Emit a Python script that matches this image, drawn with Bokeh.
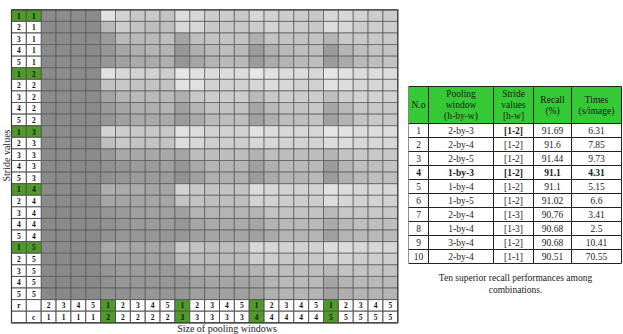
import math
from bokeh.plotting import figure
from bokeh.models import ColumnDataSource, Range1d
from bokeh.layouts import row
from bokeh.core.properties import value
from bokeh.embed import file_html
from bokeh.resources import INLINE

# ---------------- data ----------------
# stride values (rows): r, c
stride_r = [1, 2, 3, 4, 5] * 5
stride_c = [1] * 5 + [2] * 5 + [3] * 5 + [4] * 5 + [5] * 5
# pooling windows (columns): r, c
pool_r = [2, 3, 4, 5] + [1, 2, 3, 4, 5] * 4
pool_c = [1] * 4 + [2] * 5 + [3] * 5 + [4] * 5 + [5] * 5

# grey level of every cell (0 = black, 255 = white)
shade = [
    [139, 140, 140, 139, 225, 210, 200, 200, 195, 220, 215, 205, 205, 200, 215, 210, 205, 205, 200, 215, 215, 210, 205, 205],
    [139, 140, 140, 139, 185, 205, 195, 190, 190, 215, 215, 200, 200, 200, 205, 210, 205, 205, 200, 220, 215, 205, 205, 205],
    [139, 140, 140, 139, 155, 185, 185, 185, 190, 165, 190, 195, 195, 195, 175, 195, 195, 195, 195, 180, 200, 200, 200, 200],
    [138, 139, 139, 138, 150, 165, 175, 180, 180, 150, 175, 185, 190, 185, 155, 175, 185, 190, 190, 155, 180, 190, 195, 195],
    [138, 139, 139, 138, 150, 160, 170, 170, 175, 150, 165, 180, 185, 185, 155, 170, 180, 185, 190, 155, 170, 185, 190, 195],
    [139, 140, 140, 139, 225, 215, 210, 210, 205, 230, 225, 220, 220, 220, 230, 225, 220, 220, 215, 230, 225, 220, 220, 220],
    [139, 140, 140, 139, 195, 200, 195, 195, 195, 225, 225, 210, 210, 210, 215, 220, 215, 210, 210, 225, 220, 215, 215, 215],
    [139, 140, 140, 139, 165, 180, 185, 185, 185, 175, 200, 205, 205, 205, 185, 200, 205, 205, 205, 190, 205, 210, 210, 210],
    [138, 139, 139, 138, 155, 165, 175, 175, 180, 160, 180, 195, 195, 195, 165, 185, 195, 195, 200, 165, 185, 200, 200, 200],
    [138, 139, 139, 138, 150, 160, 170, 170, 170, 155, 170, 185, 190, 190, 160, 175, 190, 190, 195, 160, 180, 195, 200, 200],
    [139, 140, 140, 139, 210, 205, 200, 200, 200, 225, 220, 210, 210, 210, 225, 220, 215, 215, 215, 230, 225, 220, 220, 220],
    [139, 140, 140, 139, 190, 200, 195, 195, 195, 220, 215, 205, 205, 205, 215, 215, 210, 210, 210, 220, 220, 215, 215, 215],
    [139, 139, 139, 139, 152, 168, 168, 168, 168, 165, 190, 190, 190, 190, 178, 190, 190, 190, 190, 180, 195, 200, 200, 200],
    [138, 138, 138, 138, 145, 150, 155, 155, 160, 150, 170, 180, 180, 180, 160, 175, 185, 185, 185, 155, 180, 190, 190, 195],
    [138, 138, 138, 138, 145, 150, 155, 155, 155, 145, 160, 175, 175, 175, 155, 170, 180, 180, 185, 155, 175, 185, 190, 190],
    [139, 139, 139, 139, 175, 170, 170, 165, 165, 210, 200, 195, 195, 195, 220, 215, 210, 210, 210, 225, 220, 215, 215, 215],
    [139, 139, 139, 139, 165, 165, 165, 165, 165, 195, 195, 190, 190, 190, 210, 210, 205, 205, 205, 220, 215, 210, 210, 210],
    [138, 138, 138, 138, 150, 155, 160, 160, 160, 160, 180, 180, 180, 180, 180, 195, 195, 195, 195, 185, 200, 200, 200, 200],
    [138, 138, 138, 138, 145, 150, 155, 155, 155, 150, 165, 170, 170, 170, 165, 180, 185, 185, 185, 170, 185, 190, 190, 190],
    [137, 137, 137, 137, 145, 150, 150, 150, 150, 150, 160, 165, 165, 165, 160, 170, 180, 180, 180, 160, 180, 185, 185, 185],
    [139, 139, 139, 139, 170, 165, 165, 165, 165, 200, 195, 190, 190, 190, 215, 215, 210, 210, 210, 220, 220, 215, 215, 215],
    [138, 138, 138, 138, 160, 160, 160, 160, 160, 185, 185, 185, 185, 185, 205, 205, 200, 200, 200, 210, 210, 205, 205, 205],
    [138, 138, 138, 138, 150, 155, 155, 155, 155, 160, 175, 175, 175, 175, 180, 190, 190, 190, 190, 185, 195, 195, 195, 195],
    [137, 137, 137, 137, 145, 150, 150, 150, 150, 150, 160, 165, 165, 165, 165, 180, 185, 185, 185, 165, 180, 185, 185, 185],
    [137, 137, 137, 137, 145, 145, 150, 150, 150, 150, 160, 160, 160, 160, 160, 175, 180, 180, 180, 160, 175, 180, 180, 180],
]

# table of the ten best combinations
tab_no = ["1", "2", "3", "4", "5", "6", "7", "8", "9", "10"]
tab_window = ["2-by-3", "2-by-4", "2-by-5", "1-by-3", "1-by-4", "1-by-5", "2-by-4", "1-by-4", "3-by-4", "2-by-4"]
tab_stride = ["[1-2]", "[1-2]", "[1-2]", "[1-2]", "[1-2]", "[1-2]", "[1-3]", "[1-3]", "[1-2]", "[1-1]"]
tab_recall = ["91.69", "91.6", "91.44", "91.1", "91.1", "91.02", "90.76", "90.68", "90.68", "90.51"]
tab_times = ["6.31", "7.85", "9.73", "4.31", "5.15", "6.6", "3.41", "2.5", "10.41", "70.55"]
tab_headers = [["N.o"], ["Pooling", "window", "(h-by-w)"], ["Stride", "values", "[h-w]"],
               ["Recall", "(%)"], ["Times", "(s/image)"]]
caption = ["Ten superior recall performances among", "combinations."]
y_title = "Stride values"
x_title = "Size of pooling windows"

# ---------------- styles ----------------
GREEN = "#4f9a28"
HEAD_GREEN = "#35c935"
SERIF = "Liberation Serif"

# ---------------- heat map ----------------
n_rows, n_cols = len(stride_r), len(pool_r)
W, H = 408, 334
gx0, gx1, gy0, gy1 = 11.0, 397.3, 9.3, 322.3        # grid frame in pixels
cw = (gx1 - gx0) / (n_cols + 2)
ch = (gy1 - gy0) / (n_rows + 2)
xr = Range1d(-2 - gx0 / cw, -2 + (W - gx0) / cw)
yr = Range1d(n_rows + 2 + (H - gy1) / ch, -gy0 / ch)

p = figure(width=W, height=H, x_range=xr, y_range=yr,
           x_axis_location=None, y_axis_location=None, min_border=0,
           output_backend="svg", toolbar_location=None)
p.grid.visible = False
p.outline_line_color = None
p.background_fill_color = "white"

cells = dict(x=[], y=[], color=[])
for i, vals in enumerate(shade):
    for j, v in enumerate(vals):
        cells["x"].append(j + 0.5)
        cells["y"].append(i + 0.5)
        cells["color"].append("#%02x%02x%02x" % (v, v, v))
p.rect("x", "y", width=1, height=1, source=ColumnDataSource(cells),
       fill_color="color", line_color="#575757", line_alpha=0.7, line_width=1)

lab = dict(x=[], y=[], text=[], fill=[])
for i in range(n_rows):
    for k, val in enumerate((stride_r[i], stride_c[i])):
        lab["x"].append(-2 + k + 0.5)
        lab["y"].append(i + 0.5)
        lab["text"].append(str(val))
        lab["fill"].append(GREEN if stride_r[i] == 1 else "white")
for (kx, ky, t) in ((0, 0, "r"), (1, 0, ""), (0, 1, ""), (1, 1, "c")):
    lab["x"].append(-2 + kx + 0.5)
    lab["y"].append(n_rows + ky + 0.5)
    lab["text"].append(t)
    lab["fill"].append("white")
for j in range(n_cols):
    for k, val in enumerate((pool_r[j], pool_c[j])):
        lab["x"].append(j + 0.5)
        lab["y"].append(n_rows + k + 0.5)
        lab["text"].append(str(val))
        lab["fill"].append(GREEN if pool_r[j] == 1 else "white")
lsrc = ColumnDataSource(lab)
p.rect("x", "y", width=1, height=1, source=lsrc, fill_color="fill",
       line_color="#555555", line_width=1)
p.text("x", "y", text="text", source=lsrc, text_align="center", text_baseline="middle",
       text_font=value(SERIF), text_font_style=value("bold"), text_font_size=value("7.5px"),
       text_color="#111111")

# outer border of the whole grid
p.rect(x=[(n_cols - 2) / 2], y=[(n_rows + 2) / 2], width=n_cols + 2, height=n_rows + 2,
       fill_color=None, line_color="#3a3a3a", line_width=1.2)

# axis titles
p.text(x=[-2 - (gx0 - 5.5) / cw], y=[(155 - gy0) / ch], text=[y_title], angle=math.pi / 2,
       text_align="center", text_baseline="middle", text_font=value(SERIF),
       text_font_size=value("10px"), text_color="#222222")
p.text(x=[-2 + (226.5 - gx0) / cw], y=[(333.5 - gy0) / ch], text=[x_title],
       text_align="center", text_baseline="bottom", text_font=value(SERIF),
       text_font_size=value("10px"), text_color="#222222")

# ---------------- table ----------------
t = figure(width=215, height=H, x_range=Range1d(408, 623), y_range=Range1d(H, 0),
           x_axis_location=None, y_axis_location=None, min_border=0,
           output_backend="svg", toolbar_location=None)
t.grid.visible = False
t.outline_line_color = None

col_w = [20, 65, 40, 38, 50]
x0, top, head_h, row_h = 408, 86, 37, 14
edges = [x0]
for w in col_w:
    edges.append(edges[-1] + w)
cx = [(edges[k] + edges[k + 1]) / 2 for k in range(len(col_w))]

hr = dict(x=cx, y=[top + head_h / 2] * len(cx), w=col_w)
t.rect("x", "y", width="w", height=head_h, source=ColumnDataSource(hr),
       fill_color=HEAD_GREEN, line_color="#222222", line_width=1)

ht = dict(x=[], y=[], text=[])
for k, lines in enumerate(tab_headers):
    n = len(lines)
    for m, s in enumerate(lines):
        ht["x"].append(cx[k])
        ht["y"].append(top + head_h / 2 + (m - (n - 1) / 2) * 11)
        ht["text"].append(s)
t.text("x", "y", text="text", source=ColumnDataSource(ht), text_align="center",
       text_baseline="middle", text_font=value(SERIF), text_font_size=value("9.5px"),
       text_color="#1a1a1a")

columns = [tab_no, tab_window, tab_stride, tab_recall, tab_times]
dr = dict(x=[], y=[], w=[], text=[], style=[])
for r in range(len(tab_no)):
    yc = top + head_h + r * row_h + row_h / 2
    for k, col in enumerate(columns):
        dr["x"].append(cx[k])
        dr["y"].append(yc)
        dr["w"].append(col_w[k])
        dr["text"].append(col[r])
        bold = (r == 3) or (r == 0 and k == 2)
        dr["style"].append("bold" if bold else "normal")
dsrc = ColumnDataSource(dr)
t.rect("x", "y", width="w", height=row_h, source=dsrc, fill_color="white",
       line_color="#222222", line_width=1)
t.text("x", "y", text="text", source=dsrc, text_align="center", text_baseline="middle",
       text_font=value(SERIF), text_font_style="style", text_font_size=value("9.5px"),
       text_color="#1a1a1a")

cap = dict(x=[515, 515], y=[277, 289], text=caption)
t.text("x", "y", text="text", source=ColumnDataSource(cap), text_align="center",
       text_baseline="middle", text_font=value(SERIF), text_font_size=value("9.5px"),
       text_color="#1a1a1a")

layout = row(p, t)
open("out.html", "w").write(file_html(layout, INLINE))
